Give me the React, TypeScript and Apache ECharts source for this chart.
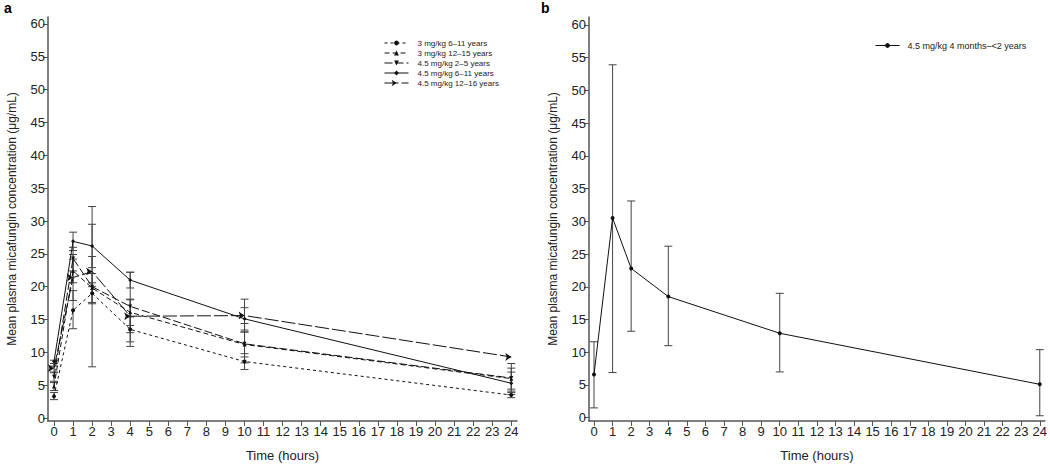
import React, { useEffect, useRef } from "react";
import * as echarts from "echarts";

const hours = [0, 1, 2, 4, 10, 24];
const xTicks = Array.from({ length: 25 }, (_, i) => i);
const yTicks = [0, 5, 10, 15, 20, 25, 30, 35, 40, 45, 50, 55, 60];

const namesA = [
  "3 mg/kg 6\u201311 years",
  "3 mg/kg 12\u201315 years",
  "4.5 mg/kg 2\u20135 years",
  "4.5 mg/kg 6\u201311 years",
  "4.5 mg/kg 12\u201316 years",
];
const nameB = "4.5 mg/kg 4 months\u2013<2 years";

// panel a means
const mean3_6_11 = [3.3, 16.4, 19.0, 13.5, 8.6, 3.5];
const mean3_12_15 = [4.8, 22.4, 19.8, 16.1, 11.2, 6.0];
const mean45_2_5 = [6.3, 24.3, 20.0, 17.0, 11.3, 6.1];
const mean45_6_11 = [8.6, 26.9, 26.2, 21.0, 15.1, 5.3];
const mean45_12_16 = [7.6, 21.4, 22.3, 15.5, 15.6, 9.3];

// panel a error bounds
const lo3_6_11 = [2.8, 13.6, 17.4, 11.6, 7.4, 3.1];
const hi3_6_11 = [3.9, 19.4, 20.6, 15.4, 9.8, 3.9];
const lo3_12_15 = [4.2, 20.6, 17.6, 14.1, 9.3, 4.4];
const hi3_12_15 = [5.4, 24.2, 22.0, 18.1, 13.1, 7.6];
const lo45_2_5 = [5.6, 22.4, 7.8, 10.9, 8.4, 4.1];
const hi45_2_5 = [7.0, 26.0, 32.2, 22.2, 14.4, 8.3];
const lo45_6_11 = [7.9, 25.5, 22.9, 19.8, 13.4, 3.6];
const hi45_6_11 = [8.8, 28.3, 29.5, 22.2, 16.8, 7.0];
const lo45_12_16 = [6.9, 17.9, 20.0, 13.0, 13.1, 9.3];
const hi45_12_16 = [8.3, 24.9, 24.6, 18.0, 18.1, 9.3];

// panel b
const meanB = [6.6, 30.5, 22.8, 18.5, 12.9, 5.1];
const loB = [1.5, 6.9, 13.2, 11.0, 7.0, 0.3];
const hiB = [11.6, 53.9, 33.1, 26.2, 19.0, 10.4];

const meansA = [mean3_6_11, mean3_12_15, mean45_2_5, mean45_6_11, mean45_12_16];
const losA = [lo3_6_11, lo3_12_15, lo45_2_5, lo45_6_11, lo45_12_16];
const hisA = [hi3_6_11, hi3_12_15, hi45_2_5, hi45_6_11, hi45_12_16];

const symbolsA = ["circle", "triangle", "triangle", "diamond", "arrow"];
const rotatesA = [0, 0, 180, 0, -90];
const dashesA: any[] = [[3, 3], [5, 3], [8, 3], "solid", [14, 3]];

const FONT = "Liberation Sans, Arial, Helvetica, sans-serif";
const AXIS_COLOR = "#555";
const TEXT_COLOR = "#222";

function errorRender(params: any, api: any) {
  const x = api.value(0);
  const lo = api.value(1);
  const hi = api.value(2);
  if (hi - lo < 1e-6) return { type: "group", children: [] };
  const p1 = api.coord([x, lo]);
  const p2 = api.coord([x, hi]);
  const style = { stroke: "#444", lineWidth: 1 };
  const w = 4;
  return {
    type: "group",
    children: [
      { type: "line", shape: { x1: p1[0], y1: p1[1], x2: p2[0], y2: p2[1] }, style },
      { type: "line", shape: { x1: p1[0] - w, y1: p1[1], x2: p1[0] + w, y2: p1[1] }, style },
      { type: "line", shape: { x1: p2[0] - w, y1: p2[1], x2: p2[0] + w, y2: p2[1] }, style },
    ],
  };
}

function makeXAxis(gridIndex: number, min: number, max: number) {
  return {
    type: "value",
    gridIndex,
    min,
    max,
    name: "Time (hours)",
    nameLocation: "middle",
    nameGap: 28,
    nameTextStyle: { fontFamily: FONT, fontSize: 13, color: TEXT_COLOR },
    axisLine: { show: true, onZero: false, lineStyle: { color: AXIS_COLOR, width: 1.5 } },
    axisTick: { show: true, inside: false, length: 5, customValues: xTicks, lineStyle: { color: AXIS_COLOR } },
    axisLabel: { show: true, customValues: xTicks, margin: 4, fontFamily: FONT, fontSize: 13, color: TEXT_COLOR },
    splitLine: { show: false },
  };
}

function makeYAxis(gridIndex: number, min: number, max: number) {
  return {
    type: "value",
    gridIndex,
    min,
    max,
    name: "Mean plasma micafungin concentration (\u03bcg/mL)",
    nameLocation: "middle",
    nameGap: 30,
    nameRotate: 90,
    nameTextStyle: { fontFamily: FONT, fontSize: 12, color: TEXT_COLOR },
    axisLine: { show: true, onZero: false, lineStyle: { color: AXIS_COLOR, width: 1.5 } },
    axisTick: { show: true, inside: false, length: 5, customValues: yTicks, lineStyle: { color: AXIS_COLOR } },
    axisLabel: { show: true, customValues: yTicks, margin: 3, fontFamily: FONT, fontSize: 13, color: TEXT_COLOR },
    splitLine: { show: false },
  };
}

export default function App() {
  const ref = useRef<HTMLDivElement>(null);
  useEffect(() => {
    if (!ref.current) return;
    const chart = echarts.init(ref.current, undefined, { renderer: "svg" });
    const series: any[] = [];
    meansA.forEach((m, i) => {
      series.push({
        type: "custom",
        name: "err" + i,
        xAxisIndex: 0,
        yAxisIndex: 0,
        renderItem: errorRender,
        encode: { x: 0, y: [1, 2] },
        data: hours.map((h, j) => [h, losA[i][j], hisA[i][j]]),
        z: 1,
      });
    });
    meansA.forEach((m, i) => {
      series.push({
        type: "line",
        name: namesA[i],
        xAxisIndex: 0,
        yAxisIndex: 0,
        data: hours.map((h, j) => [h, m[j]]),
        symbol: symbolsA[i],
        symbolSize: i === 4 ? 6 : 4,
        symbolRotate: rotatesA[i],
        showSymbol: true,
        itemStyle: { color: "#111" },
        lineStyle: { color: "#111", width: 1, type: dashesA[i] },
        z: 2,
      });
    });
    series.push({
      type: "custom",
      name: "errB",
      xAxisIndex: 1,
      yAxisIndex: 1,
      renderItem: errorRender,
      encode: { x: 0, y: [1, 2] },
      data: hours.map((h, j) => [h, loB[j], hiB[j]]),
      z: 1,
    });
    series.push({
      type: "line",
      name: nameB,
      xAxisIndex: 1,
      yAxisIndex: 1,
      data: hours.map((h, j) => [h, meanB[j]]),
      symbol: "circle",
      symbolSize: 4,
      showSymbol: true,
      itemStyle: { color: "#111" },
      lineStyle: { color: "#111", width: 1, type: "solid" },
      z: 2,
    });

    chart.setOption({
      animation: false,
      backgroundColor: "#fff",
      textStyle: { fontFamily: FONT },
      grid: [
        { left: 48, top: 17, width: 469, height: 408, containLabel: false },
        { left: 589, top: 17, width: 458, height: 408, containLabel: false },
      ],
      xAxis: [makeXAxis(0, -0.315, 24.3), makeXAxis(1, -0.27, 24.27)],
      yAxis: [makeYAxis(0, -0.45, 61.06), makeYAxis(1, -0.5, 61.2)],
      legend: [
        {
          data: namesA,
          orient: "vertical",
          left: 379,
          top: 34,
          itemWidth: 24,
          itemHeight: 6,
          itemGap: 2,
          lineStyle: { width: 1 },
          textStyle: { fontFamily: FONT, fontSize: 8, color: TEXT_COLOR, padding: [0, 0, 0, 4] },
          selectedMode: false,
        },
        {
          data: [nameB],
          orient: "vertical",
          left: 870,
          top: 36,
          itemWidth: 24,
          itemHeight: 6,
          lineStyle: { width: 1 },
          textStyle: { fontFamily: FONT, fontSize: 9, color: TEXT_COLOR, padding: [0, 0, 0, 3] },
          selectedMode: false,
        },
      ],
      graphic: [
        { type: "text", left: 4, top: 1, style: { text: "a", fontFamily: FONT, fontSize: 14, fontWeight: "bold", fill: "#000" } },
        { type: "text", left: 541, top: 1, style: { text: "b", fontFamily: FONT, fontSize: 14, fontWeight: "bold", fill: "#000" } },
      ],
      series,
    });
    return () => chart.dispose();
  }, []);
  return (
    <div
      ref={ref}
      style={{ position: "fixed", left: 0, top: 0, width: 1050, height: 467, background: "#fff" }}
    />
  );
}
